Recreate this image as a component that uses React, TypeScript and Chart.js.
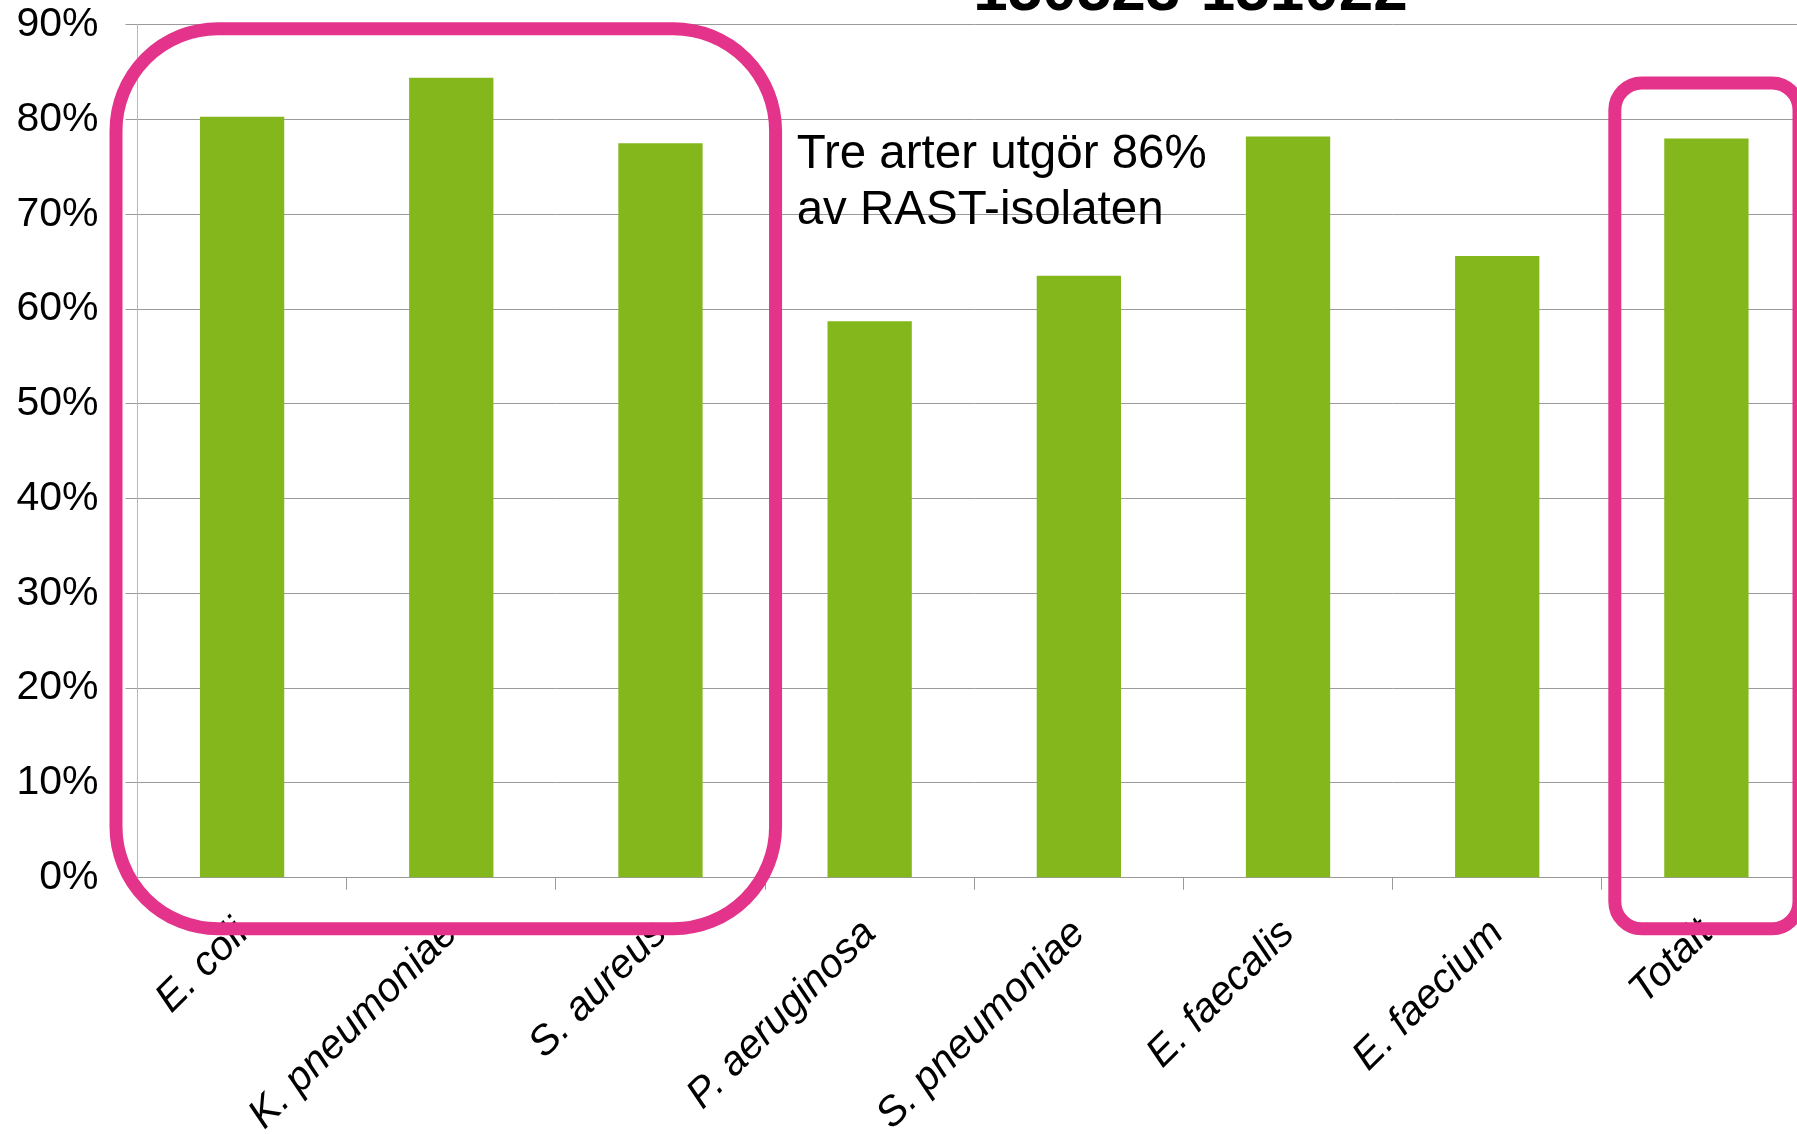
import React, { useEffect, useRef } from "react";
import { Chart, registerables } from "chart.js";

Chart.register(...registerables);

const categories = [
  "E. coli",
  "K. pneumoniae",
  "S. aureus",
  "P. aeruginosa",
  "S. pneumoniae",
  "E. faecalis",
  "E. faecium",
  "Totalt",
];
const values = [80.3, 84.4, 77.5, 58.7, 63.5, 78.2, 65.6, 78.0];
const yMin = 0;
const yMax = 90;
const yStep = 10;
const titleText = "150523-151022";
const noteLines = ["Tre arter utgör 86%", "av RAST-isolaten"];
// highlighted category ranges [firstIndex, lastIndex]
const highlightGroups = [
  [0, 2],
  [7, 7],
];

const FONT = '"Liberation Sans", Arial, sans-serif';
const PINK = "#E3338A";
const GREEN = "#84B71C";

export default function App() {
  const ref = useRef<HTMLCanvasElement>(null);

  useEffect(() => {
    const canvas = ref.current;
    if (!canvas) return;

    const overlay = {
      id: "overlay",
      afterDraw(chart: any) {
        const ctx = chart.ctx as CanvasRenderingContext2D;
        const area = chart.chartArea;
        const xs = chart.scales.x;
        const ys = chart.scales.y;
        const n = categories.length;
        const catW = (area.right - area.left) / n;
        const boundary = (i: number) => area.left + i * catW;

        ctx.save();
        // partially visible title at top
        ctx.fillStyle = "#000";
        ctx.font = `bold 62px ${FONT}`;
        ctx.textAlign = "center";
        ctx.textBaseline = "alphabetic";
        ctx.fillText(titleText, 1190.5, 9.5);

        // annotation
        ctx.font = `47.5px ${FONT}`;
        ctx.textAlign = "left";
        const noteX = xs.getPixelForValue(3) - 73;
        ctx.fillText(noteLines[0], noteX, 168.3);
        ctx.fillText(noteLines[1], noteX, 224.3);

        // highlight boxes
        ctx.strokeStyle = PINK;
        ctx.lineWidth = 13;
        const bottom = area.bottom + 51;
        highlightGroups.forEach(([a, b], gi) => {
          let left: number, right: number, top: number, r: number;
          if (gi === 0) {
            left = boundary(a) - 21.5;
            right = boundary(b + 1) + 10.5;
            top = ys.getPixelForValue(yMax) + 4;
            r = 102;
          } else {
            left = boundary(a) + 13;
            right = boundary(b + 1) - 12;
            top = ys.getPixelForValue(80) - 36.5;
            r = 27;
          }
          ctx.beginPath();
          (ctx as any).roundRect(left, top, right - left, bottom - top, r);
          ctx.stroke();
        });
        ctx.restore();
      },
    };

    const chart = new Chart(canvas, {
      type: "bar",
      data: {
        labels: categories,
        datasets: [
          {
            data: values,
            backgroundColor: GREEN,
            barPercentage: 0.403,
            categoryPercentage: 1,
          },
        ],
      },
      options: {
        responsive: false,
        animation: false,
        devicePixelRatio: 1,
        layout: { padding: { top: 24.7, right: 9, left: 0, bottom: 0 } },
        plugins: {
          legend: { display: false },
          tooltip: { enabled: false },
          title: { display: false },
        },
        scales: {
          x: {
            grid: {
              drawOnChartArea: false,
              drawTicks: true,
              tickLength: 12,
              color: "#999999",
              offset: true,
            },
            border: { color: "#999999", width: 1 },
            ticks: {
              font: { family: FONT, size: 41, style: "italic" },
              color: "#000",
              padding: 20,
              minRotation: 45,
              maxRotation: 45,
              autoSkip: false,
            },
            afterFit(s: any) {
              s.height = 256.3;
              s.paddingLeft = 0;
              s.paddingRight = 0;
            },
          },
          y: {
            min: yMin,
            max: yMax,
            ticks: {
              stepSize: yStep,
              callback: (v: any) => `${v}%`,
              font: { family: FONT, size: 41 },
              color: "#000",
              padding: 27,
            },
            grid: { color: "#9a9a9a", tickLength: 12, lineWidth: 1 },
            border: { color: "#b8b8b8", width: 1 },
            afterFit(s: any) {
              s.width = 137.5;
              s.paddingTop = 0;
              s.paddingBottom = 0;
            },
          },
        },
      } as any,
      plugins: [overlay],
    });

    return () => chart.destroy();
  }, []);

  return (
    <div
      style={{
        position: "fixed",
        left: 0,
        top: 0,
        width: 1797,
        height: 1134,
        overflow: "hidden",
        background: "#fff",
      }}
    >
      <canvas ref={ref} width={1820} height={1134} style={{ display: "block" }} />
    </div>
  );
}
